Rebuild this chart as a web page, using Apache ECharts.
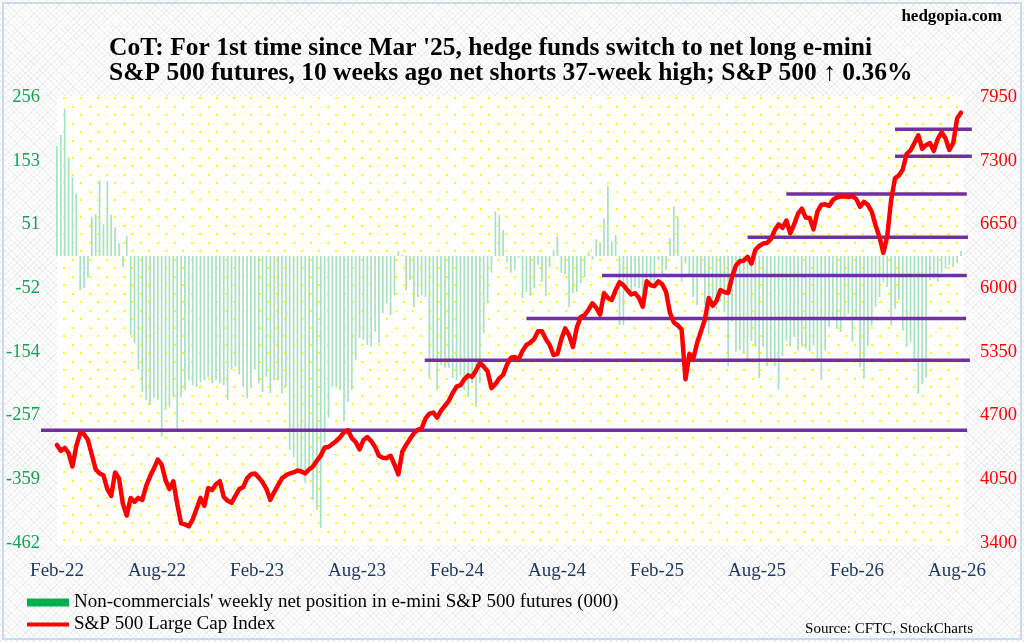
<!DOCTYPE html>
<html lang="en">
<head>
  <meta charset="UTF-8">
  <title>CoT: e-mini S&amp;P 500 futures</title>
  <style>
    body { margin: 0; }
    #wrap {
      position: relative; width: 1024px; height: 642px; background-color: #fff;
      background-image:
        repeating-linear-gradient(45deg, rgba(0,0,0,0.05) 0 1px, transparent 1px 4px),
        repeating-linear-gradient(-45deg, rgba(0,0,0,0.05) 0 1px, transparent 1px 4px);
    }
    #chart { position: absolute; left: 0; top: 0; width: 1024px; height: 642px; }
    #frame { position: absolute; left: 2px; top: 2px; right: 2px; bottom: 2px;
      border: 2px solid #c9dbf1; pointer-events: none; }
  </style>
</head>
<body>
  <div id="wrap">
    <div id="chart"></div>
    <div id="frame"></div>
  </div>

  <script src="https://cdn.jsdelivr.net/npm/echarts/dist/echarts.min.js"></script>
  <script>
    // weekly, Feb 2022 .. Aug 2026
    var dateLabels = ['Feb-22', 'Aug-22', 'Feb-23', 'Aug-23', 'Feb-24', 'Aug-24', 'Feb-25', 'Aug-25', 'Feb-26', 'Aug-26'];

    // non-commercials' net position, e-mini S&P 500 futures (000)
    var netPosition = [
      177, 195, 237, 159, 127, 101, -55, -52, -34, 63, 68, 122, 51, 121, 66, 46, 21, -18, 32,
      -127, -140, -183, -219, -232, -240, -229, -232, -291, -248, -243, -227, -277, -227, -216, -200,
      -208, -211, -203, -200, -195, -205, -200, -205, -208, -232, -183, -178, -191, -211, -229, -211,
      -183, -205, -219, -195, -221, -200, -200, -221, -211, -312, -324, -349, -352, -365, -345, -393,
      -409, -438, -300, -260,
      -211, -211, -216, -267, -235, -216, -167, -132, -135, -143, -146, -122, -140, -92, -76, -95,
      -63, 8, 2, -55, -39, -82, -66, -63, -66, -196, -167, -216, -175, -180, -180, -196, -200, -192,
      -216, -227, -205, -243, -205, -124, -76, -27, 72, 66, 42, -10, -27, -22, -3, -68, -58, -64,
      -52, -14, -42, -64, -18, 10, 32, -27, -30, -82, -60, -58, -44, -34, 6, -6, 27, 21, 61, 113,
      24, 34, -111, -111, -60, -60, -50, -52, -64, -55, -50, -52, -6,
      -30, -22, 29, 80, 64, -42, -12, -30, -66, -79, -34, -79, -126, -82, -87, -72, -90, -177, -106,
      -154, -152, -157, -170, -137, -146, -196, -146, -177, -169, -177, -215, -161, -137, -146, -130,
      -152, -146, -149, -154, -144, -169, -198, -152, -114, -98, -117, -122, -98, -93, -137, -103,
      -179, -198, -144, -112, -82, -66, -42, -50, -112, -85, -71, -120, -146, -138, -166, -222, -206,
      -196, -39, -37, -42, -27, -20, -14, -18, -11, 8
    ];

    // S&P 500 Large Cap Index, weekly close
    var spx = [
      4400, 4340, 4370, 4320, 4180, 4390, 4523, 4510, 4450, 4300, 4150, 4110, 4090, 3950, 3880, 4120,
      4060, 3800, 3680, 3860, 3820, 3860, 3840, 3980, 4080, 4160, 4250, 4200, 4040, 3950, 4030, 3800,
      3600, 3590, 3570, 3640, 3750, 3860, 3780, 3960, 3940, 4000, 4030, 3870, 3830, 3810, 3880, 3950,
      3970, 4060, 4100, 4110, 4070, 4020, 3950, 3840, 3920, 3990, 4060, 4090, 4110, 4120, 4140, 4130,
      4110, 4150, 4180, 4240, 4290, 4375, 4380, 4410, 4440, 4480, 4530, 4550, 4470, 4430, 4355, 4450,
      4480, 4440, 4380, 4290, 4270, 4265, 4290, 4200, 4100, 4330, 4400, 4460, 4520, 4555, 4570, 4670,
      4720, 4730, 4680, 4750, 4800, 4850, 4930, 4995, 5010, 5070, 5110, 5095, 5160, 5235, 5200, 5150,
      4980, 5020, 5080, 5115, 5220, 5290, 5298, 5275, 5360, 5420, 5445, 5480, 5560, 5560, 5480, 5420,
      5318, 5330, 5480, 5590, 5520, 5400, 5600, 5706, 5725, 5780, 5845, 5800, 5730, 5950, 5900, 5880,
      5980, 6060, 6030, 5980, 5935, 5950, 5900, 5810, 6070, 6030, 6020, 6070, 6040, 5960, 5747, 5650,
      5620, 5580, 5070, 5330, 5280, 5440, 5560, 5680, 5900, 5820, 5870, 5980, 5960, 5950, 6114, 6230,
      6275, 6280, 6320, 6250, 6390, 6430, 6455, 6461, 6500, 6590, 6650, 6614, 6690, 6560, 6650, 6760,
      6810, 6720, 6716, 6600, 6780, 6850, 6855, 6838, 6900, 6925, 6935, 6938, 6930, 6940, 6910, 6830,
      6880, 6850, 6780, 6640, 6520, 6360, 6530, 6900, 7120, 7150, 7210, 7370, 7405, 7480, 7560, 7420,
      7460, 7480, 7400, 7520, 7590, 7530, 7410, 7480, 7730, 7790
    ];

    // horizontal support / resistance levels (index points) and their week span
    var levels     = [4550, 5265, 5690, 6130, 6520, 6960, 7345, 7620];
    var levelStart = [-4.1, 94.8, 121, 140.5, 178, 188, 216, 216];
    var levelEnd   = [234.6, 235.3, 234.3, 234.5, 234.8, 234.5, 235.8, 235.8];

    var barName = "Non-commercials' weekly net position in e-mini S&P 500 futures (000)";
    var lineName = 'S&P 500 Large Cap Index';
    var serif = 'Liberation Serif';

    // yellow dotted plot background
    var tile = document.createElement('canvas');
    tile.width = 17;
    tile.height = 17;
    var ctx = tile.getContext('2d');
    ctx.fillStyle = '#ffffff';
    ctx.fillRect(0, 0, 17, 17);
    ctx.fillStyle = '#ffff00';
    ctx.fillRect(4, 4, 2, 2);
    ctx.fillRect(12, 12, 2, 2);

    var chart = echarts.init(document.getElementById('chart'));

    var series = [
      {
        name: barName,
        type: 'bar',
        xAxisIndex: 0,
        yAxisIndex: 0,
        barWidth: 1.7,
        itemStyle: { color: '#a6e2c1' },
        data: netPosition.map(function (v, i) { return [i, v]; })
      }
    ];

    levels.forEach(function (lv, k) {
      series.push({
        type: 'line',
        xAxisIndex: 0,
        yAxisIndex: 1,
        symbol: 'none',
        silent: true,
        lineStyle: { color: '#7030a0', width: 3.5 },
        data: [[levelStart[k], lv], [levelEnd[k], lv]],
        z: 3
      });
    });

    series.push({
      name: lineName,
      type: 'line',
      xAxisIndex: 0,
      yAxisIndex: 1,
      symbol: 'none',
      itemStyle: { color: '#ff0000' },
      lineStyle: { color: '#ff0000', width: 4.5, cap: 'round', join: 'round' },
      data: spx.map(function (v, i) { return [i, v]; }),
      z: 4
    });

    var option = {
      animation: false,
      title: [
        {
          text: "CoT: For 1st time since Mar '25, hedge funds switch to net long e-mini\nS&P 500 futures, 10 weeks ago net shorts 37-week high; S&P 500 \u2191 0.36%",
          left: 104,
          top: 31,
          textStyle: { fontFamily: serif, fontWeight: 'bold', fontSize: 25.5, lineHeight: 25, color: '#000' }
        },
        {
          text: 'hedgopia.com',
          right: 17,
          top: 3,
          textStyle: { fontFamily: serif, fontWeight: 'bold', fontSize: 17, color: '#000' }
        },
        {
          text: 'Source: CFTC, StockCharts',
          right: 46,
          top: 617,
          textStyle: { fontFamily: serif, fontWeight: 'normal', fontSize: 15, color: '#000' }
        }
      ],
      legend: {
        orient: 'vertical',
        left: 27,
        top: 593,
        itemWidth: 42,
        itemHeight: 8,
        itemGap: 3,
        padding: 0,
        textStyle: { fontFamily: serif, fontSize: 19, color: '#000' },
        data: [
          { name: barName, icon: 'rect', itemStyle: { color: '#00b050' } },
          { name: lineName, icon: 'path://M0,0H40V4H0Z', itemStyle: { color: '#ff0000' } }
        ]
      },
      grid: [
        { left: 41, top: 97, width: 932, height: 446, show: false },
        { left: 57, top: 96, width: 907, height: 449, show: true,
          backgroundColor: { image: tile, repeat: 'repeat' }, borderWidth: 0 }
      ],
      xAxis: [
        { type: 'value', gridIndex: 0, min: -4.1, max: 236.1, show: false },
        {
          type: 'value', gridIndex: 1, min: 0, max: 9.07, interval: 1,
          axisLine: { show: false }, axisTick: { show: false }, splitLine: { show: false },
          axisLabel: {
            margin: 17,
            fontFamily: serif, fontSize: 19, color: '#1f3864',
            formatter: function (v) { return Number.isInteger(v) ? dateLabels[v] : ''; }
          }
        }
      ],
      yAxis: [
        {
          type: 'value', gridIndex: 0, position: 'left',
          min: -462, max: 256, interval: 718 / 7,
          axisLine: { show: false }, axisTick: { show: false }, splitLine: { show: false },
          axisLabel: {
            margin: 1, fontFamily: serif, fontSize: 18.5, color: '#14a352',
            formatter: function (v) { return String(Math.round(v)); }
          }
        },
        {
          type: 'value', gridIndex: 0, position: 'right',
          min: 3400, max: 7950, interval: 650,
          axisLine: { show: false }, axisTick: { show: false }, splitLine: { show: false },
          axisLabel: {
            margin: 7, fontFamily: serif, fontSize: 18.5, color: '#ff0000',
            formatter: function (v) { return String(v); }
          }
        },
        { type: 'value', gridIndex: 1, min: 0, max: 1, show: false }
      ],
      series: series
    };

    chart.setOption(option);
  </script>
</body>
</html>
